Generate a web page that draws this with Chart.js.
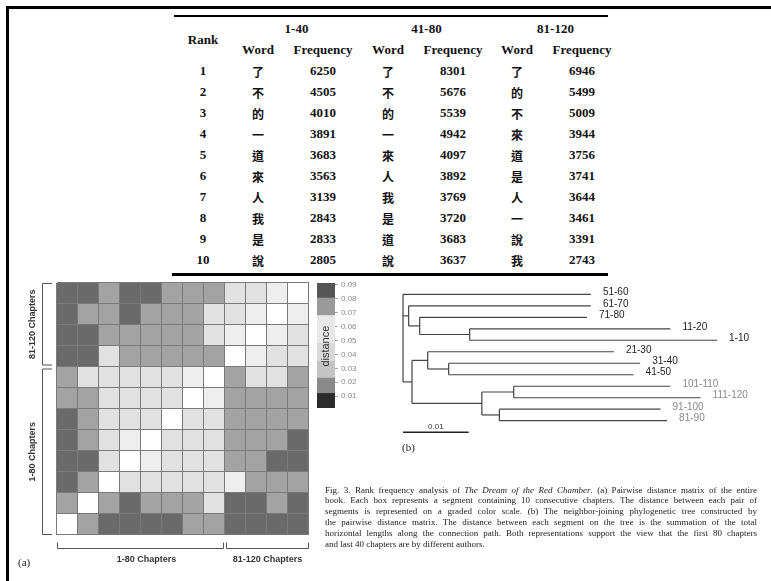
<!DOCTYPE html>
<html>
<head>
<meta charset="utf-8">
<script src="https://cdn.jsdelivr.net/npm/chart.js@4.4.1/dist/chart.umd.min.js"></script>
<style>
body { margin: 0; background: #fff; }
#page { position: relative; width: 771px; height: 581px; overflow: hidden; background: #fff; }
.abs { position: absolute; white-space: nowrap; }
.c { transform: translate(-50%, -50%); }
.tb { font: bold 13px "Liberation Serif", serif; color: #111; }
.cjk { font: bold 12px "Noto Sans CJK TC", sans-serif; color: #111; }
.rule { position: absolute; background: #000; }
canvas { position: absolute; }
.cap { position: absolute; left: 325px; font: 9px "Liberation Serif", serif; line-height: 11px; color: #222; white-space: nowrap; }
</style>
</head>
<body>
<div id="page">
  <div class="rule" style="left:6px;top:6px;width:765px;height:3px"></div>
  <div class="rule" style="left:6px;top:6px;width:3px;height:575px"></div>
  <div class="rule" style="left:174px;top:15px;width:434px;height:2px"></div>
  <div class="rule" style="left:172px;top:273px;width:436px;height:2.5px"></div>
  <div id="table"></div>
  <canvas id="heat" width="330" height="306" style="left:0;top:275px"></canvas>
  <canvas id="cbar" width="60" height="145" style="left:310px;top:275px"></canvas>
  <canvas id="tree" width="391" height="170" style="left:380px;top:275px"></canvas>
  <div class="abs" style="left:18px;top:556px;font:11px 'Liberation Serif',serif;color:#222">(a)</div>
  <div class="abs" style="left:402px;top:441px;font:11px 'Liberation Serif',serif;color:#222">(b)</div>
  <div id="caption"></div>
</div>
<script>
// ---- table data (top 10 words per part of the book) ----
const ranks  = [1, 2, 3, 4, 5, 6, 7, 8, 9, 10];
const words1 = ['了', '不', '的', '一', '道', '來', '人', '我', '是', '說'];
const freq1  = [6250, 4505, 4010, 3891, 3683, 3563, 3139, 2843, 2833, 2805];
const words2 = ['了', '不', '的', '一', '來', '人', '我', '是', '道', '說'];
const freq2  = [8301, 5676, 5539, 4942, 4097, 3892, 3769, 3720, 3683, 3637];
const words3 = ['了', '的', '不', '來', '道', '是', '人', '一', '說', '我'];
const freq3  = [6946, 5499, 5009, 3944, 3756, 3741, 3644, 3461, 3391, 2743];
const partNames = ['1-40', '41-80', '81-120'];

// ---- heatmap data (pairwise distance, rows listed top to bottom) ----
const segLabels = ['1','2','3','4','5','6','7','8','9','10','11','12'];
const groupNames = ['1-80 Chapters', '81-120 Chapters'];
const groupSizes = [8, 4];
const distRows = [
  [0.085, 0.085, 0.075, 0.085, 0.085, 0.075, 0.075, 0.075, 0.062, 0.062, 0.055, 0],
  [0.085, 0.075, 0.075, 0.085, 0.075, 0.075, 0.075, 0.062, 0.062, 0.055, 0, 0.055],
  [0.085, 0.085, 0.075, 0.075, 0.075, 0.075, 0.075, 0.062, 0.055, 0, 0.055, 0.062],
  [0.085, 0.085, 0.062, 0.075, 0.075, 0.075, 0.075, 0.075, 0, 0.055, 0.062, 0.062],
  [0.075, 0.062, 0.062, 0.062, 0.062, 0.062, 0.055, 0, 0.075, 0.062, 0.062, 0.075],
  [0.075, 0.075, 0.062, 0.062, 0.062, 0.062, 0, 0.055, 0.075, 0.075, 0.075, 0.075],
  [0.085, 0.075, 0.062, 0.062, 0.062, 0, 0.062, 0.062, 0.075, 0.075, 0.075, 0.075],
  [0.085, 0.075, 0.062, 0.055, 0, 0.062, 0.062, 0.062, 0.075, 0.075, 0.075, 0.085],
  [0.085, 0.085, 0.062, 0, 0.055, 0.062, 0.062, 0.062, 0.075, 0.075, 0.085, 0.085],
  [0.085, 0.075, 0, 0.062, 0.062, 0.062, 0.062, 0.062, 0.055, 0.075, 0.075, 0.075],
  [0.075, 0, 0.075, 0.085, 0.075, 0.075, 0.075, 0.062, 0.085, 0.085, 0.075, 0.085],
  [0, 0.075, 0.085, 0.085, 0.085, 0.085, 0.075, 0.075, 0.085, 0.085, 0.085, 0.085]
];

// ---- colour bar ----
const cbLow    = [0.0015, 0.012, 0.023, 0.035, 0.048, 0.068, 0.0806];
const cbHigh   = [0.012, 0.023, 0.035, 0.048, 0.068, 0.0806, 0.0914];
const cbColors = ['#2b2b2b', '#8a8a8a', '#c4c4c4', '#d9d9d9', '#e8e8e8', '#9a9a9a', '#555555'];

// ---- neighbour-joining tree: depth = distance from root ----
const nodeNames  = ['R', 'A', 'B', 'C', 'D', 'E', 'G', 'F', 'H', 'I',
                    '51-60', '61-70', '71-80', '11-20', '1-10', '21-30', '31-40', '41-50',
                    '101-110', '111-120', '91-100', '81-90'];
const nodeParent = [null, 'R', 'A', 'B', 'R', 'D', 'E', 'D', 'F', 'F',
                    'R', 'A', 'B', 'C', 'C', 'E', 'G', 'G', 'H', 'H', 'I', 'I'];
const nodeDepth  = [0, 0.00086, 0.00254, 0.01015, 0.00137, 0.00376, 0.00695, 0.0120, 0.01685, 0.01467,
                    0.0286, 0.0286, 0.0280, 0.0407, 0.0478, 0.0321, 0.0361, 0.0351,
                    0.0407, 0.0453, 0.0392, 0.0402];
const leafOrder  = ['51-60', '61-70', '71-80', '11-20', '1-10', '21-30', '31-40', '41-50',
                    '101-110', '111-120', '91-100', '81-90'];
const lateLeaves = ['81-90', '91-100', '101-110', '111-120'];
const scaleBar = 0.01;

const captionLines = [
  'Fig. 3. Rank frequency analysis of <i>The Dream of the Red Chamber</i>. (a) Pairwise distance matrix of the entire',
  'book. Each box represents a segment containing 10 consecutive chapters. The distance between each pair of',
  'segments is represented on a graded color scale. (b) The neighbor-joining phylogenetic tree constructed by',
  'the pairwise distance matrix. The distance between each segment on the tree is the summation of the total',
  'horizontal lengths along the connection path. Both representations support the view that the first 80 chapters',
  'and last 40 chapters are by different authors.'
];

Chart.defaults.font.family = '"Liberation Sans", Arial, sans-serif';
Chart.defaults.animation = false;

/* Table as positioned text */
const table = document.getElementById('table');
function put(text, x, y, cls) {
  const d = document.createElement('div');
  d.className = 'abs c ' + cls;
  d.style.left = x + 'px';
  d.style.top = y + 'px';
  d.textContent = text;
  table.appendChild(d);
}
const wordX = [258, 388, 517];
const freqX = [323, 453, 582];
put('Rank', 203, 40, 'tb');
partNames.forEach((p, i) => {
  put(p, (wordX[i] + freqX[i]) / 2 + 6, 29, 'tb');
  put('Word', wordX[i], 50, 'tb');
  put('Frequency', freqX[i], 50, 'tb');
});
const wordCols = [words1, words2, words3];
const freqCols = [freq1, freq2, freq3];
ranks.forEach((r, i) => {
  const y = 71 + i * 21;
  put(String(r), 203, y, 'tb');
  for (let k = 0; k < 3; k++) {
    put(wordCols[k][i], wordX[k], y, 'cjk');
    put(String(freqCols[k][i]), freqX[k], y, 'tb');
  }
});

/* Heatmap (stacked unit bars, one dataset per row) */
function shade(v) {
  if (v >= 0.08) return '#6a6a6a';
  if (v >= 0.07) return '#a3a3a3';
  if (v >= 0.06) return '#e1e1e1';
  if (v > 0) return '#eeeeee';
  return '#ffffff';
}
const heatSets = distRows.slice().reverse().map(row => ({
  data: row.map(() => 1),
  backgroundColor: row.map(shade),
  borderWidth: 0,
  barPercentage: 1,
  categoryPercentage: 1
}));

const cellLines = {
  id: 'cellLines',
  afterDatasetsDraw(chart) {
    const ctx = chart.ctx, xs = chart.scales.x, ys = chart.scales.y;
    const n = segLabels.length;
    const cell = (xs.right - xs.left) / n;
    ctx.save();
    ctx.strokeStyle = '#7a7a7a';
    ctx.lineWidth = 1;
    ctx.beginPath();
    for (let i = 0; i <= n; i++) {
      const px = Math.round(xs.left + i * cell) - 0.5;
      ctx.moveTo(px, ys.top); ctx.lineTo(px, ys.bottom);
      const py = Math.round(ys.getPixelForValue(i)) - 0.5;
      ctx.moveTo(xs.left, py); ctx.lineTo(xs.right, py);
    }
    ctx.stroke();
    ctx.restore();
  }
};

const bracketPlugin = {
  id: 'brackets',
  afterDraw(chart) {
    const ctx = chart.ctx;
    const xs = chart.scales.x, ys = chart.scales.y;
    const cell = (xs.right - xs.left) / segLabels.length;
    const n1 = groupSizes[0];
    ctx.save();
    ctx.strokeStyle = '#555';
    ctx.lineWidth = 1;
    ctx.fillStyle = '#333';
    ctx.font = 'bold 9px "Liberation Sans", Arial, sans-serif';
    ctx.textAlign = 'center';
    ctx.textBaseline = 'middle';
    // left brackets (rows): top = later chapters, bottom = first 80
    const bx = xs.left - 14.5;
    const yTop = ys.getPixelForValue(segLabels.length);
    const ySplit = ys.getPixelForValue(n1);
    const yBot = ys.getPixelForValue(0);
    [[yTop, ySplit - 1.5, groupNames[1]], [ySplit + 1.5, yBot, groupNames[0]]].forEach(([a, b, txt]) => {
      ctx.beginPath();
      ctx.moveTo(xs.left - 5, a + 0.5); ctx.lineTo(bx, a + 0.5);
      ctx.lineTo(bx, b - 0.5); ctx.lineTo(xs.left - 5, b - 0.5);
      ctx.stroke();
      ctx.save();
      ctx.translate(xs.left - 24, (a + b) / 2);
      ctx.rotate(-Math.PI / 2);
      ctx.fillText(txt, 0, 0);
      ctx.restore();
    });
    // bottom brackets (columns)
    const by = yBot + 13.5;
    const xSplit = xs.left + n1 * cell;
    [[xs.left, xSplit - 1, groupNames[0]], [xSplit + 1, xs.right, groupNames[1]]].forEach(([a, b, txt]) => {
      ctx.beginPath();
      ctx.moveTo(a + 0.5, by - 6); ctx.lineTo(a + 0.5, by);
      ctx.lineTo(b - 0.5, by); ctx.lineTo(b - 0.5, by - 6);
      ctx.stroke();
      ctx.fillText(txt, (a + b) / 2 + (txt === groupNames[0] ? 6 : 0), by + 11);
    });
    ctx.restore();
  }
};

new Chart(document.getElementById('heat'), {
  type: 'bar',
  data: { labels: segLabels, datasets: heatSets },
  options: {
    responsive: false,
    layout: { padding: { left: 57, right: 21, top: 8, bottom: 46 } },
    plugins: { legend: { display: false }, tooltip: { enabled: false } },
    scales: {
      x: { stacked: true, display: false },
      y: { stacked: true, min: 0, max: segLabels.length, display: false }
    }
  },
  plugins: [cellLines, bracketPlugin]
});

/* Colour bar */
const cbarLabel = {
  id: 'cbarLabel',
  afterDatasetsDraw(chart) {
    const ctx = chart.ctx, a = chart.chartArea;
    ctx.save();
    ctx.translate((a.left + a.right) / 2, chart.scales.y.getPixelForValue(0.046));
    ctx.rotate(-Math.PI / 2);
    ctx.font = '11px "Liberation Sans", Arial, sans-serif';
    ctx.fillStyle = '#333';
    ctx.textAlign = 'center';
    ctx.textBaseline = 'middle';
    ctx.fillText('distance', 0, 0);
    ctx.restore();
  }
};
new Chart(document.getElementById('cbar'), {
  type: 'bar',
  data: {
    labels: ['distance'],
    datasets: cbLow.map((lo, i) => ({
      data: [[lo, cbHigh[i]]],
      backgroundColor: cbColors[i],
      borderWidth: 0,
      grouped: false,
      barPercentage: 1,
      categoryPercentage: 1
    }))
  },
  options: {
    responsive: false,
    layout: { padding: { left: 7, right: 0, top: 8, bottom: 12 } },
    plugins: { legend: { display: false }, tooltip: { enabled: false } },
    scales: {
      x: { display: false },
      y: {
        position: 'right', min: 0.0015, max: 0.0914,
        ticks: { stepSize: 0.01, includeBounds: false, color: '#888', font: { size: 8 }, padding: 3,
                 callback: v => v.toFixed(2) },
        grid: { drawOnChartArea: false, tickLength: 3, color: '#aaa' },
        border: { display: false },
        afterFit: s => { s.width = 35; }
      }
    }
  },
  plugins: [cbarLabel]
});

/* Tree */
const depthOf = {}, parentOf = {};
nodeNames.forEach((n, i) => { depthOf[n] = nodeDepth[i]; parentOf[n] = nodeParent[i]; });
const yOf = {};
leafOrder.forEach((n, i) => { yOf[n] = i; });
const kids = {};
nodeNames.forEach(n => { if (parentOf[n]) (kids[parentOf[n]] = kids[parentOf[n]] || []).push(n); });
function placeY(n) {
  if (yOf[n] !== undefined) return yOf[n];
  const ys = kids[n].map(placeY);
  yOf[n] = (Math.min(...ys) + Math.max(...ys)) / 2;
  return yOf[n];
}
placeY('R');

const treeSets = [];
const seg = (p, q, color, w) => treeSets.push({
  data: [p, q], showLine: true, borderColor: color, borderWidth: w, pointRadius: 0, clip: false
});
nodeNames.forEach(n => {
  const p = parentOf[n];
  if (p) seg({ x: depthOf[p], y: yOf[n] }, { x: depthOf[n], y: yOf[n] }, '#444', 1.2);
  if (kids[n]) {
    const ys = kids[n].map(k => yOf[k]);
    seg({ x: depthOf[n], y: Math.min(...ys) }, { x: depthOf[n], y: Math.max(...ys) }, '#444', 1.2);
  }
});
seg({ x: 0, y: leafOrder.length }, { x: scaleBar, y: leafOrder.length }, '#222', 1.5);

const leafLabels = {
  id: 'leafLabels',
  afterDatasetsDraw(chart) {
    const ctx = chart.ctx, xs = chart.scales.x, ys = chart.scales.y;
    ctx.save();
    ctx.font = '10px "Liberation Sans", Arial, sans-serif';
    ctx.textBaseline = 'middle';
    leafOrder.forEach(n => {
      ctx.fillStyle = lateLeaves.includes(n) ? '#8a8a8a' : '#222';
      ctx.fillText(n, xs.getPixelForValue(depthOf[n]) + 12, ys.getPixelForValue(yOf[n]) - 2);
    });
    ctx.font = '8px "Liberation Sans", Arial, sans-serif';
    ctx.fillStyle = '#333';
    ctx.textAlign = 'center';
    ctx.fillText(scaleBar.toFixed(2), xs.getPixelForValue(scaleBar / 2), ys.getPixelForValue(leafOrder.length) - 5);
    ctx.restore();
  }
};
new Chart(document.getElementById('tree'), {
  type: 'scatter',
  data: { datasets: treeSets },
  options: {
    responsive: false,
    layout: { padding: { left: 23, right: 39.5, top: 19.3, bottom: 12.8 } },
    plugins: { legend: { display: false }, tooltip: { enabled: false } },
    scales: {
      x: { type: 'linear', min: 0, max: 0.05, display: false },
      y: { type: 'linear', min: 0, max: leafOrder.length, reverse: true, display: false }
    }
  },
  plugins: [leafLabels]
});

/* Caption, justified line by line */
const cap = document.getElementById('caption');
const capWidth = 432;
captionLines.forEach((line, i) => {
  const d = document.createElement('div');
  d.className = 'cap';
  d.style.top = (484.5 + i * 10.8) + 'px';
  d.innerHTML = line;
  cap.appendChild(d);
  if (i < captionLines.length - 1) {
    const spaces = (d.textContent.match(/ /g) || []).length;
    const w = d.getBoundingClientRect().width;
    d.style.wordSpacing = ((capWidth - w) / spaces) + 'px';
  }
});
</script>
</body>
</html>
